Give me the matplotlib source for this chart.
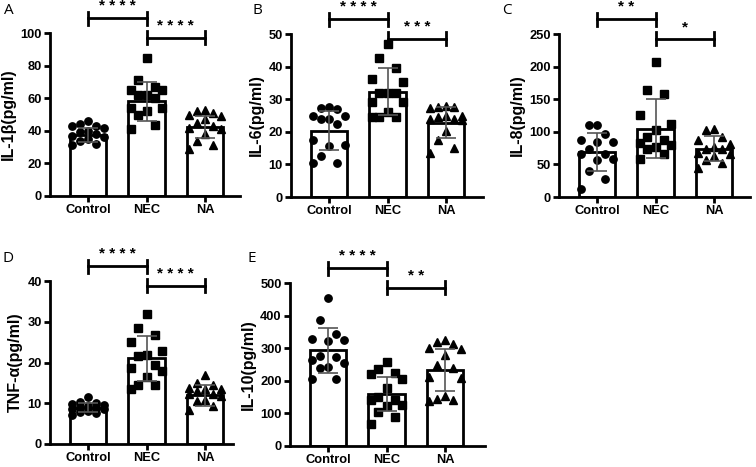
import matplotlib
matplotlib.use('Agg')
import matplotlib.pyplot as plt
import numpy as np

plt.rcParams['font.family'] = ['Liberation Sans', 'DejaVu Sans']

groups = ['Control', 'NEC', 'NA']

# panel A - IL-1b
il1b_control = [46, 44, 43, 43, 42, 40, 39, 38, 37, 36, 35, 34, 32, 31]
il1b_nec = [84.5, 71, 67, 65, 65, 62, 60, 62, 54, 54, 52, 50, 43.5, 41]
il1b_na = [53, 52, 51, 50, 49, 47, 45, 43, 42, 41, 38, 34, 31, 29]
il1b_mean = [37.5, 58, 42.3]
il1b_sd = [4.2, 11.7, 7.0]

# panel B - IL-6
il6_control = [27.6, 27.3, 27, 25, 24.8, 24, 24, 22.5, 17.6, 16, 15.5, 12.7, 10.4, 10.4]
il6_nec = [47, 42.6, 39.5, 36.2, 35.3, 32, 32, 32, 29.2, 29.2, 26.2, 24.4, 24.4, 24.4]
il6_na = [27.8, 27.5, 27.5, 27.3, 25, 24.8, 24.6, 24, 23.8, 23.6, 20.2, 17.5, 15, 13.6]
il6_mean = [20.3, 32.3, 22.8]
il6_sd = [6.0, 7.2, 4.7]

# panel C - IL-8
il8_control = [110, 110, 96, 87, 85, 85, 73, 66, 66, 58, 57, 40, 28, 13]
il8_nec = [207, 164, 158, 126, 112, 103, 92, 87, 83, 80, 77, 74, 66, 59]
il8_na = [105, 102, 92, 88, 82, 77, 74, 73, 68, 66, 63, 56, 52, 45]
il8_mean = [69, 105, 74]
il8_sd = [29, 45, 19]

# panel D - TNF-a
tnf_control = [11.5, 10.3, 10, 9.8, 9.5, 9.3, 9, 8.9, 8.7, 8.5, 8.2, 7.8, 7.5, 7]
tnf_nec = [32, 28.4, 26.7, 25.1, 22.9, 21.8, 21.5, 19.4, 18.6, 18, 16.5, 14.5, 14.5, 13.4]
tnf_na = [17, 14.9, 14.5, 13.8, 13.6, 13.5, 13, 12.3, 12.2, 11.8, 10.8, 10.5, 9.3, 8.3]
tnf_mean = [8.9, 21, 12]
tnf_sd = [1.1, 5.6, 2.6]

# panel E - IL-10
il10_control = [455, 386, 345, 327, 325, 322, 275, 272, 265, 254, 242, 240, 205, 205]
il10_nec = [258, 235, 225, 220, 205, 178, 150, 141, 140, 126, 123, 105, 90, 68]
il10_na = [325, 320, 312, 300, 297, 278, 250, 240, 212, 210, 153, 145, 140, 138]
il10_mean = [293, 160, 234]
il10_sd = [70, 52, 65]

markers = ['o', 's', '^']

# letter, ylabel, data, mean, sd, ymax, yticks, stars, pixel box (left, right, bottom, top), letter pos
panels = [
    ('A', 'IL-1β(pg/ml)', [il1b_control, il1b_nec, il1b_na], il1b_mean, il1b_sd,
     100, [0, 20, 40, 60, 80, 100], ['****', '****'], (50, 240, 196, 33), (4, 3)),
    ('B', 'IL-6(pg/ml)', [il6_control, il6_nec, il6_na], il6_mean, il6_sd,
     50, [0, 10, 20, 30, 40, 50], ['****', '***'], (291, 483, 197, 34), (252, 3)),
    ('C', 'IL-8(pg/ml)', [il8_control, il8_nec, il8_na], il8_mean, il8_sd,
     250, [0, 50, 100, 150, 200, 250], ['**', '*'], (559, 750, 197, 34), (502, 3)),
    ('D', 'TNF-α(pg/ml)', [tnf_control, tnf_nec, tnf_na], tnf_mean, tnf_sd,
     40, [0, 10, 20, 30, 40], ['****', '****'], (50, 233, 444, 281), (3, 251)),
    ('E', 'IL-10(pg/ml)', [il10_control, il10_nec, il10_na], il10_mean, il10_sd,
     500, [0, 100, 200, 300, 400, 500], ['****', '**'], (290, 485, 446, 283), (247, 251)),
]

W, H = 756, 467
fig = plt.figure(figsize=(W / 100, H / 100), dpi=100)

offsets = [0, -0.14, 0.14, -0.27, 0.27]


def draw_panel(p):
    letter, ylabel, data, means, sds, ymax, yticks, stars, box, lpos = p
    l, r, b, t = box
    ax = fig.add_axes([l / W, 1 - b / H, (r - l) / W, (b - t) / H])
    x = np.arange(3)
    spacing = 58.5
    xl = -38 / spacing
    xr = xl + (r - l) / spacing
    ax.bar(x, means, width=0.62, color='white', edgecolor='black', linewidth=2, zorder=1)
    for i, vals in enumerate(data):
        vals = sorted(vals, reverse=True)
        xs = [i + offsets[k % 5] for k in range(len(vals))]
        ax.plot(xs, vals, linestyle='none', marker=markers[i], color='black',
                markersize=5.3, zorder=2, clip_on=False)
    ax.errorbar(x, means, yerr=sds, fmt='none', ecolor='#555555', elinewidth=1.2,
                capsize=7, capthick=1.2, zorder=3)
    ax.set_xlim(xl, xr)
    ax.set_ylim(0, ymax)
    ax.set_yticks(yticks)
    ax.set_xticks(x)
    ax.set_xticklabels(groups)
    for s in ['top', 'right']:
        ax.spines[s].set_visible(False)
    for s in ['left', 'bottom']:
        ax.spines[s].set_linewidth(2)
    ax.tick_params(width=2, length=4, labelsize=9.3, pad=2)
    for lab in ax.get_xticklabels() + ax.get_yticklabels():
        lab.set_fontweight('bold')
    ax.set_ylabel(ylabel, fontsize=11.5, fontweight='bold', labelpad=3)

    # significance brackets
    for (x0, x1), yb, st in zip([(0, 1), (1, 2)], [1.09, 0.97], stars):
        yy = yb * ymax
        cap = 0.04 * ymax
        ax.plot([x0, x1], [yy, yy], color='black', lw=2, clip_on=False, zorder=4)
        ax.plot([x0, x0], [yy - cap, yy + cap], color='black', lw=2, clip_on=False, zorder=4)
        ax.plot([x1, x1], [yy - cap, yy + cap], color='black', lw=2, clip_on=False, zorder=4)
        ax.text((x0 + x1) / 2, yy + 0.03 * ymax, ' '.join(st), ha='center', va='bottom',
                fontsize=11, fontweight='bold', clip_on=False)

    fig.text(lpos[0] / W, 1 - lpos[1] / H, letter, ha='left', va='top',
             fontsize=11, family=['Open Sans', 'DejaVu Sans'])


for p in panels:
    draw_panel(p)

fig.savefig('out.png', dpi=100)
